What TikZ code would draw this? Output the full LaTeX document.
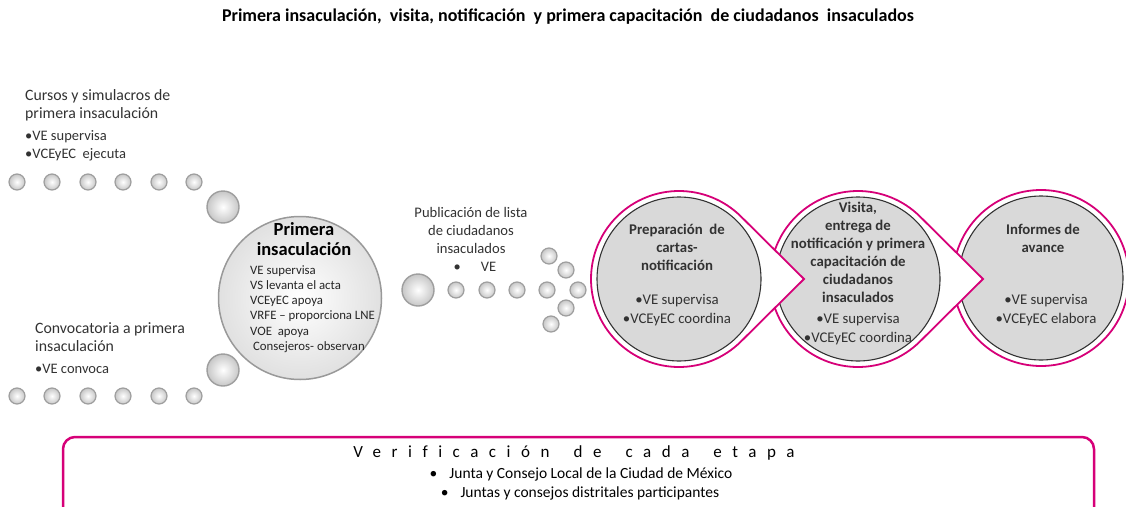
\documentclass[tikz,border=0pt]{standalone}
\usepackage{fontspec}
\setmainfont{Carlito}
\newfontfamily\spacedfont[LetterSpace=62,Ligatures=NoCommon]{Carlito}
\definecolor{mag}{RGB}{214,0,120}
\definecolor{txt}{RGB}{50,50,50}
\definecolor{stepgray}{RGB}{217,217,217}
\newcommand\fs[2]{\fontsize{#1}{#2}\selectfont}
\newcommand\mkdrop[3]{%
  \pgfmathsetmacro\dropang{acos(88/125)}
  \draw[mag, line width=1.8pt, fill=white] (#1+125,#2) -- ([shift={(#1,#2)}]\dropang:88)
     arc[start angle=\dropang, end angle=360-\dropang, radius=88] -- cycle;
  \node[stepcircle] (#3) at (#1,#2) {};
}
\begin{document}
\begin{tikzpicture}[x=1pt,y=-1pt,
  bub/.style={circle, draw=black!38, line width=1.2pt, inner color=white, outer color=black!22, inner sep=0pt},
  smallbub/.style={bub, minimum size=16pt},
  bigbub/.style={bub, minimum size=32pt, line width=1.4pt},
  stepcircle/.style={circle, draw=black!80, line width=1.1pt, fill=stepgray, minimum size=164pt, inner sep=0pt},
  lbl/.style={inner sep=0pt, text=txt},
]
\useasboundingbox (0,0) rectangle (1126,506);

% title
\node[inner sep=0pt, font=\bfseries\fs{18}{20}] (title) at (568,17)
  {Primera insaculación,\ \ visita, notificación\ \ y primera capacitación\ \ de ciudadanos\ \ insaculados};

% left bubbles
\foreach \x [count=\i] in {17,52,88,123,159,194} {
  \node[smallbub] (ta\i) at (\x,182) {};
  \node[smallbub] (ba\i) at (\x,396) {};
}
\node[bigbub] (tbig) at (223,207) {};
\node[bigbub] (bbig) at (223,370) {};

% central circle
\node[circle, draw=black!40, line width=1.5pt, inner color=white, outer color=black!12,
      minimum size=163pt, inner sep=0pt] (pi) at (300,298) {};
\node[lbl, align=center, font=\bfseries\fs{18.5}{20.5}, text=black] (pit) at (304,239) {Primera\\insaculación};
\node[lbl, align=left, anchor=west, font=\fs{12.8}{15.2}, text=black!85] (pil) at (250,309)
  {VE supervisa\\VS levanta el acta\\VCEyEC apoya\\VRFE -- proporciona LNE\\VOE\ \ apoya\\\ Consejeros- observan};

% right bubbles
\node[bigbub] (rbig) at (418,290) {};
\foreach \x/\y [count=\i] in {456/290,487/290,517/290,547/290,578/290,549/256,566/270,566/308,551/324} {
  \node[smallbub] (rb\i) at (\x,\y) {};
}

% left texts
\node[lbl, align=left, anchor=west, font=\fs{15.8}{17.5}] (cursos) at (25,105.5) {Cursos y simulacros de\\primera insaculación};
\node[lbl, align=left, anchor=west, font=\fs{14.5}{18}] (cursosb) at (25,146) {•VE supervisa\\•VCEyEC\ \ ejecuta};
\node[lbl, align=left, anchor=west, font=\fs{15.8}{18}] (conv) at (35,337) {Convocatoria a primera\\insaculación};
\node[lbl, align=left, anchor=west, font=\fs{14.5}{18}] (convb) at (35,369) {•VE convoca};

\node[lbl, align=center, font=\fs{14.6}{18}] (pub) at (471,230) {Publicación de lista\\de ciudadanos\\insaculados};
\node[lbl, font=\fs{14.5}{16}] (pubb) at (475,267) {•\hspace{20pt}VE};

% step shapes
\node[circle, draw=mag, line width=1.8pt, fill=white, minimum size=176pt, inner sep=0pt] (s3o) at (1041,278) {};
\node[stepcircle] (s3) at (1041,278) {};
\mkdrop{858}{279}{s2}
\mkdrop{679}{279}{s1}

\node[lbl, align=center, font=\bfseries\fs{14.8}{18}] (s1t) at (677,247) {Preparación\ \ de\\cartas-\\notificación};
\node[lbl, align=center, font=\fs{14.8}{19}] (s1b) at (677,310.5) {•VE supervisa\\•VCEyEC coordina};
\node[lbl, align=center, font=\bfseries\fs{14.8}{18}] (s2t) at (858,252) {Visita,\\entrega de\\notificación y primera\\capacitación de\\ciudadanos\\insaculados};
\node[lbl, align=center, font=\fs{14.8}{18.5}] (s2b) at (858,329) {•VE supervisa\\•VCEyEC coordina};
\node[lbl, align=center, font=\bfseries\fs{14.8}{18}] (s3t) at (1043,238) {Informes de\\avance};
\node[lbl, align=center, font=\fs{14.8}{19}] (s3b) at (1046,310.5) {•VE supervisa\\•VCEyEC elabora};

% bottom box
\draw[mag, line width=2.5pt, rounded corners=12pt] (63,437) rectangle (1094,520);
\node[lbl, font=\spacedfont\fs{17}{18}, text=black] (ver) at (574,453) {Verificación\hspace{24pt}de\hspace{24pt}cada\hspace{24pt}etapa};
\node[lbl, font=\fs{15.5}{16}, text=black] (v1) at (581,474) {•\hspace{12pt}Junta y Consejo Local de la Ciudad de México};
\node[lbl, font=\fs{15.5}{16}, text=black] (v2) at (580,493) {•\hspace{12pt}Juntas y consejos distritales participantes};
\end{tikzpicture}
\end{document}
